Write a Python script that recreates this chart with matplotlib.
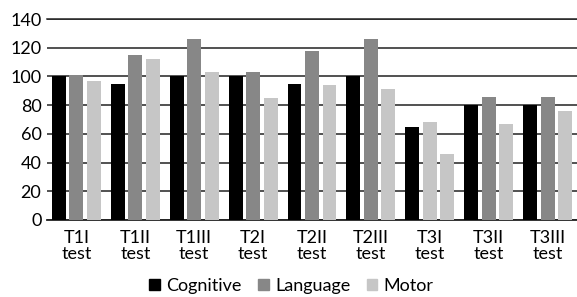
import matplotlib
matplotlib.use("Agg")
import matplotlib.pyplot as plt
import numpy as np
from matplotlib.patches import Patch

categories = ["T1I\ntest", "T1II\ntest", "T1III\ntest", "T2I\ntest", "T2II\ntest",
              "T2III\ntest", "T3I\ntest", "T3II\ntest", "T3III\ntest"]
cognitive = [100, 95, 100, 100, 95, 100, 65, 80, 80]
language = [101, 115, 126, 103, 118, 126, 68, 86, 86]
motor = [97, 112, 103, 85, 94, 91, 46, 67, 76]
series_names = ["Cognitive", "Language", "Motor"]
series_colors = ["#000000", "#878787", "#c6c6c6"]
# In the reference, the T3I language bar is drawn in the light (motor) shade
language_colors = [series_colors[1]] * 9
language_colors[6] = series_colors[2]

plt.rcParams['font.family'] = ['Lato', 'DejaVu Sans']

fig = plt.figure(figsize=(5.77, 2.97), dpi=100)
ax = fig.add_axes([47/577, 1 - 220/297, 530/577, 201/297])

x = np.arange(len(categories))
w = 0.237
step = 0.297
ax.bar(x - step, cognitive, w, color=series_colors[0], zorder=3)
ax.bar(x, language, w, color=language_colors, zorder=3)
ax.bar(x + step, motor, w, color=series_colors[2], zorder=3)

ax.set_xlim(-0.5, len(categories) - 0.5)
ax.set_ylim(0, 140)
ax.set_yticks(range(0, 141, 20))
ax.yaxis.grid(True, color="#222222", linewidth=1.1, zorder=0)
ax.set_axisbelow(True)
for s in ["right", "left"]:
    ax.spines[s].set_visible(False)
ax.spines["top"].set_color("#222222")
ax.spines["top"].set_linewidth(1.1)
ax.spines["bottom"].set_color("#222222")
ax.spines["bottom"].set_linewidth(1.3)
ax.set_xticks(x)
ax.set_xticklabels(categories, linespacing=1.05)
ax.tick_params(axis="both", length=0, labelsize=13, colors="black")
ax.tick_params(axis="x", pad=7)
ax.tick_params(axis="y", pad=4)

handles = [Patch(color=c) for c in series_colors]
fig.legend(handles, series_names, loc="lower center", ncol=3, frameon=False,
           fontsize=13, bbox_to_anchor=(0.505, -0.045), handlelength=0.6,
           handleheight=0.6, handletextpad=0.35, columnspacing=0.9)

fig.savefig("out.png", dpi=100)
